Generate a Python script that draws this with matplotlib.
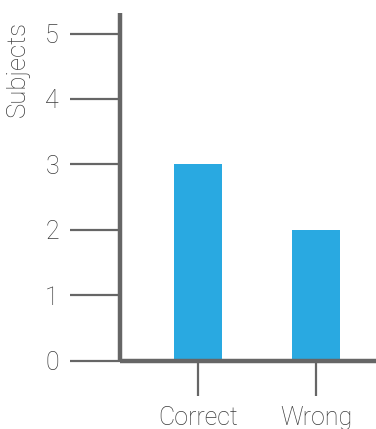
import matplotlib
matplotlib.use("Agg")
import matplotlib.pyplot as plt

categories = ["Correct", "Wrong"]
subjects = [3, 2]
y_ticks = [0, 1, 2, 3, 4, 5]

BAR_COLOR = "#29A9E1"
AXIS_COLOR = "#666666"
TEXT_COLOR = "#3a3a3a"

plt.rcParams["font.family"] = ["Roboto", "DejaVu Sans"]

fig = plt.figure(figsize=(3.76, 4.29), dpi=100)
ax = fig.add_axes([120 / 376, 1 - 360.5 / 429, 1 - 120 / 376, (360.5 - 13) / 429])

x = list(range(len(categories)))
ax.bar(x, subjects, width=0.41, color=BAR_COLOR, zorder=2)

ax.set_xlim(-0.661, 1.508)
ax.set_ylim(0, (360.5 - 13) / 65.4)

ax.set_yticks(y_ticks)
ax.set_yticklabels([str(v) for v in y_ticks])
ax.set_xticks(x)
ax.set_xticklabels(categories)

for side in ("top", "right"):
    ax.spines[side].set_visible(False)
for side in ("left", "bottom"):
    ax.spines[side].set_color(AXIS_COLOR)
    ax.spines[side].set_linewidth(3.2)
    ax.spines[side].set_capstyle("butt")

ax.tick_params(axis="y", direction="out", length=36, width=1.6, color=AXIS_COLOR,
               pad=8, labelsize=18, labelcolor=TEXT_COLOR)
ax.tick_params(axis="x", direction="out", length=25, width=1.6, color=AXIS_COLOR,
               pad=7.5, labelsize=18, labelcolor=TEXT_COLOR)
for lbl in ax.get_xticklabels() + ax.get_yticklabels():
    lbl.set_fontweight("light")

fig.text(18 / 376, 1 - 21 / 429, "Subjects", rotation=90, ha="center", va="top",
         fontsize=18.5, color=TEXT_COLOR, fontweight="light")

fig.savefig("out.png", dpi=100)
